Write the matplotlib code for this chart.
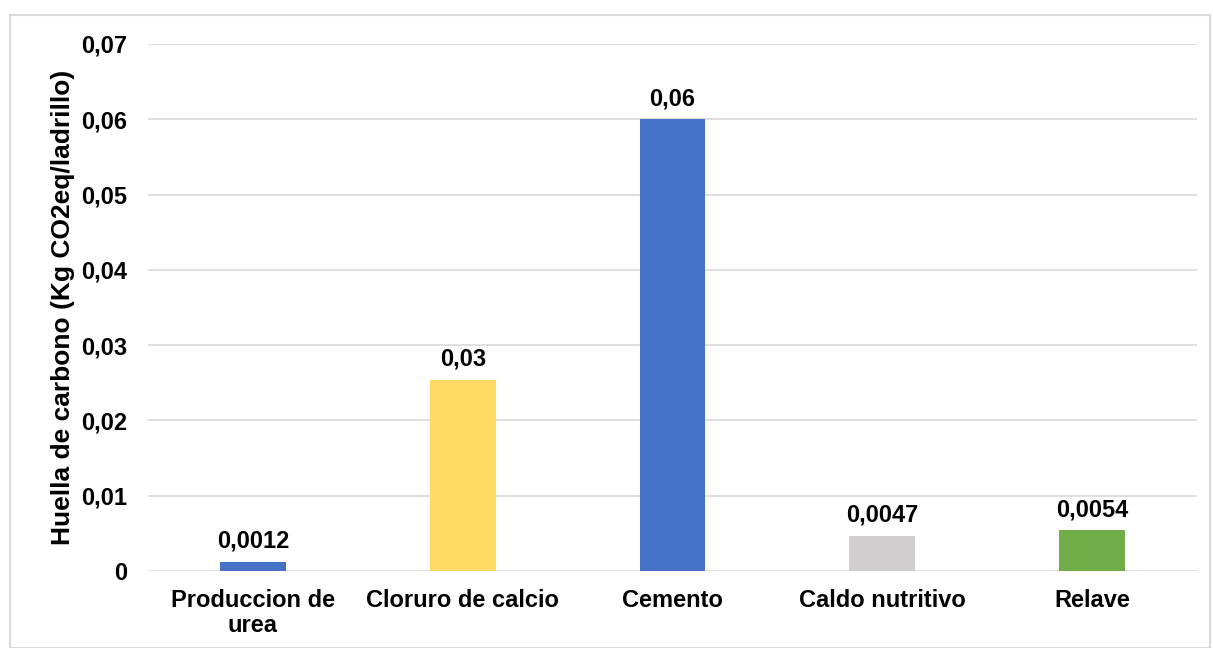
import matplotlib
matplotlib.use("Agg")
import matplotlib.pyplot as plt
from matplotlib.patches import Rectangle

categories = ["Produccion de\nurea", "Cloruro de calcio", "Cemento", "Caldo nutritivo", "Relave"]
values = [0.0012, 0.0254, 0.060, 0.0047, 0.0054]
labels = ["0,0012", "0,03", "0,06", "0,0047", "0,0054"]
colors = ["#4472C4", "#FFD966", "#4472C4", "#D0CECE", "#70AD47"]
yticks = [0, 0.01, 0.02, 0.03, 0.04, 0.05, 0.06, 0.07]
ytick_labels = ["0", "0,01", "0,02", "0,03", "0,04", "0,05", "0,06", "0,07"]

plt.rcParams['font.family'] = ['Liberation Sans', 'DejaVu Sans']
plt.rcParams['font.weight'] = 'bold'

W, H = 1213, 648
fig = plt.figure(figsize=(W / 100, H / 100), dpi=100)
fig.patches.append(Rectangle((10 / W, 0), (1210 - 10) / W, 1 - 15 / H, transform=fig.transFigure,
                             fill=False, edgecolor="#D9D9D9", linewidth=1.5))
ax = fig.add_axes([148 / W, 1 - 571 / H, (1197 - 148) / W, (571 - 44) / H])

x = list(range(len(categories)))
bars = ax.bar(x, values, width=0.314, color=colors, zorder=3)
for xi, v, lab in zip(x, values, labels):
    ax.text(xi, v + 0.0012, lab, ha="center", va="bottom", fontsize=17, fontweight="bold")

ax.set_ylim(0, 0.07)
ax.set_xlim(-0.5, len(categories) - 0.5)
ax.set_yticks(yticks)
ax.set_yticklabels(ytick_labels, fontsize=17, fontweight="bold")
ax.set_xticks(x)
ax.set_xticklabels(categories, fontsize=17, fontweight="bold", linespacing=1.1)
ax.tick_params(axis="both", length=0)
ax.tick_params(axis="x", pad=13)
ax.tick_params(axis="y", pad=15)
ax.grid(axis="y", color="#D9D9D9", linewidth=1.2, zorder=0)
for s in ax.spines.values():
    s.set_visible(False)
ax.set_ylabel("Huella de carbono (Kg CO2eq/ladrillo)", fontsize=19, fontweight="bold", labelpad=4)

fig.savefig("out.png", dpi=100)
